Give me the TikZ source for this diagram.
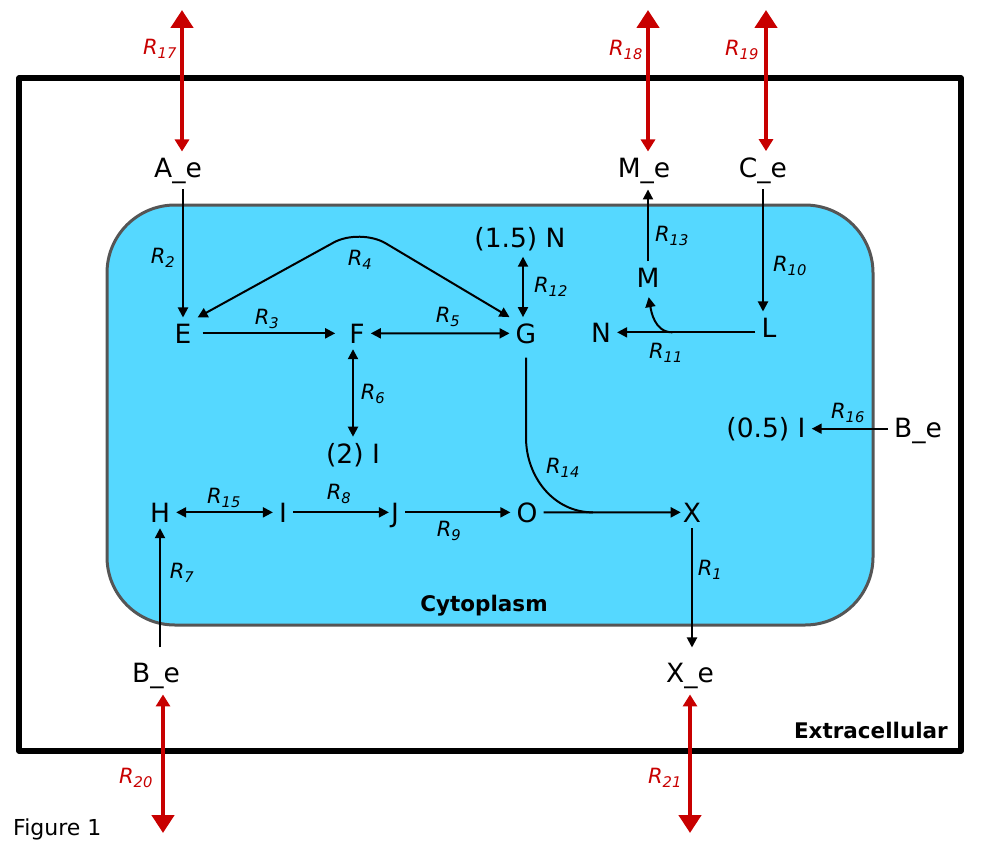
\documentclass[tikz,border=0pt]{standalone}
\usepackage{fontspec}
\setmainfont{DejaVu Sans}
\usepackage{tikz}
\usetikzlibrary{arrows.meta,positioning,calc}
\usepackage{xcolor}
\definecolor{cytoblue}{RGB}{85,216,255}
\definecolor{cytoedge}{RGB}{85,85,85}
\definecolor{exred}{RGB}{200,0,0}
\newcommand{\rlab}[1]{\textit{R}\textsubscript{\textit{#1}}}
\tikzset{
    met/.style={inner sep=6pt, anchor=base, font=\fontsize{26.5}{32}\selectfont},
    rlabel/.style={inner sep=0pt, font=\fontsize{21}{25}\selectfont},
    rlabelX/.style={rlabel, text=exred},
    rxn/.style={line width=2pt, -{Triangle[length=10pt,width=10pt]}},
    rxnrev/.style={line width=2pt, {Triangle[length=10pt,width=10pt]}-{Triangle[length=10pt,width=10pt]}},
    rxnline/.style={line width=2pt},
    exch/.style={line width=4.5pt, draw=exred, {Triangle[length=18pt,width=22pt]}-{Triangle[length=12pt,width=14pt]}},
    region/.style={inner sep=0pt, font=\fontsize{21.5}{26}\selectfont\bfseries},
}

\begin{document}
\begin{tikzpicture}[x=1pt, y=-1pt]
    \useasboundingbox (0,0) rectangle (981,843);
    % Compartments
    \draw[line width=5.5pt, line join=round] (19,78) rectangle (961,751);
    \draw[cytoedge, fill=cytoblue, line width=3pt, rounded corners=68pt] (107,205) rectangle (873,625);
    \node[region, anchor=base] (cyto) at (484,611) {Cytoplasm};
    \node[region, anchor=base east] (extra) at (948,738) {Extracellular};
    \node[inner sep=0pt, anchor=base west, font=\fontsize{22}{26}\selectfont] (fig) at (13,835) {Figure 1};
    % Metabolites
    \node[met] (Ae) at (178,177) {A\_e};
    \node[met] (Me) at (644,177) {M\_e};
    \node[met] (Ce) at (763,177) {C\_e};
    \node[met] (N15) at (520,247) {(1.5) N};
    \node[met] (E) at (183,343) {E};
    \node[met] (F) at (357,343) {F};
    \node[met] (G) at (526,343) {G};
    \node[met] (M) at (648,287) {M};
    \node[met] (N) at (601,342) {N};
    \node[met] (L) at (769,337) {L};
    \node[met] (I05) at (766,437) {(0.5) I};
    \node[met] (Be2) at (918,437) {B\_e};
    \node[met] (I2) at (353,463) {(2) I};
    \node[met] (H) at (160,522) {H};
    \node[met] (I) at (283,522) {I};
    \node[met] (J) at (395,522) {J};
    \node[met] (O) at (527,522) {O};
    \node[met] (X) at (692,522) {X};
    \node[met] (Be) at (156,682) {B\_e};
    \node[met] (Xe) at (690,682) {X\_e};
    % Reaction labels
    \foreach \n/\x/\y in {1/710/570, 2/163/258, 3/267/319, 4/360/260, 5/448/317, 6/373/394,
                          7/182/573, 8/339/494, 9/449/531, 10/790/266, 11/666/353, 12/551/287,
                          13/672/236, 14/563/468, 15/224/498, 16/848/413} {
        \node[rlabel] (r\n) at (\x,\y) {\rlab{\n}};
    }
    \foreach \n/\x/\y in {17/160/49, 18/626/50, 19/742/50, 20/136/778, 21/665/778} {
        \node[rlabelX] (r\n) at (\x,\y) {\rlab{\n}};
    }
    % Exchange with the outside
    \foreach \n/\x/\s in {17/182/Ae, 18/648/Me, 19/766/Ce} {
        \coordinate (out\n) at (\x,10);
        \draw[exch] (out\n) -- (out\n |- \s.north);
    }
    \foreach \n/\x/\s in {20/163/Be, 21/690/Xe} {
        \coordinate (out\n) at (\x,833);
        \draw[exch] (out\n) -- (out\n |- \s.south);
    }
    % Transport across the membrane
    \draw[rxn] (Ae.south -| E) -- (E.north);
    \draw[rxn] (M.north) -- (M.north |- Me.south);
    \draw[rxn] (Ce.south) -- (Ce.south |- L.north);
    \draw[rxn] (Be2.west |- I05.east) -- (I05.east);
    \draw[rxn] ([yshift=9pt]Be.north -| H.south) -- (H.south);
    \draw[rxn] (X.south) -- ([yshift=9pt]Xe.north -| X.south);
    % Cytoplasm reactions
    \draw[rxn, shorten <=5pt, shorten >=8pt] (E) -- (F);
    \draw[rxnrev] (F) -- (G);
    \draw[rxnrev, rounded corners=30pt] (E.north east) -- (360,228) -- (G.north west);
    \draw[rxnrev] (F.south -| I2) -- (I2.north);
    \draw[rxnrev] ([xshift=-3pt]G.north) -- ([xshift=-3pt]G.north |- N15.south);
    \draw[rxn] (L.west |- N.east) -- (N.east);
    \path (L.west |- N.east) -- (N.east) coordinate[pos=0.6] (b11);
    \draw[rxn, shorten >=4pt] (b11) to[out=180, in=-80] (M.south);
    \draw[rxnrev] (H) -- (I);
    \draw[rxn, shorten >=-4pt] (I.east) -- (I.east -| J.west);
    \draw[rxn] (J.east |- O.west) -- (O.west);
    \draw[rxn, shorten >=-4pt] (O) -- (X);
    \path (O.east) -- (X.west) coordinate[pos=0.37] (b14);
    \draw[rxnline, shorten <=8pt] (G.south) -- ++(0,88) to[out=-90, in=180] (b14);
\end{tikzpicture}
\end{document}
